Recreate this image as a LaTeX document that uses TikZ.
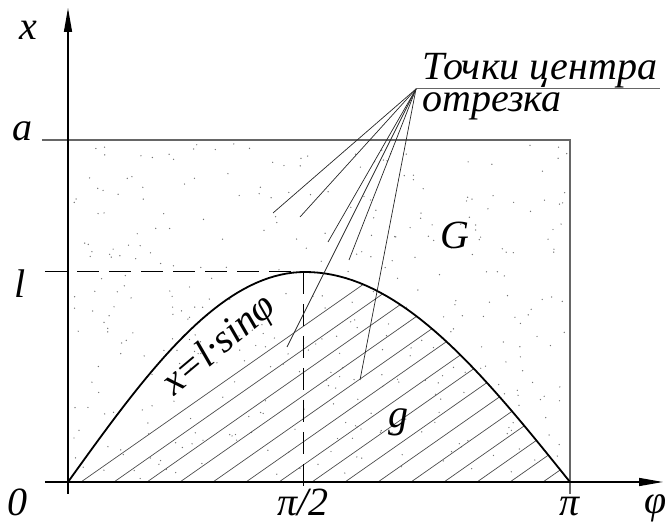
\documentclass[tikz,border=0pt]{standalone}
\usepackage{fontspec}
\setmainfont{Liberation Serif}
\usetikzlibrary{arrows.meta}

\begin{document}
\begin{tikzpicture}[x=1pt, y=1pt,
    every node/.style={font=\itshape\fontsize{40}{46}\selectfont, inner sep=0pt},
    axis/.style={line width=1.4pt, -{Triangle[length=24pt, width=8pt]}},
    frame/.style={draw=black!60, line width=1.2pt},
    hatch/.style={black!70, line width=0.7pt},
    leader/.style={black!85, line width=0.7pt},
    dashline/.style={line width=1pt, dash pattern=on 22pt off 10pt}]
    \useasboundingbox (-68,-44) rectangle (598,482);

    % stipple of G
    \pgfmathsetseed{42}
    \foreach \i in {1,...,380}{
        \pgfmathsetmacro{\px}{3+rnd*496}
        \pgfmathsetmacro{\py}{3+rnd*336}
        \fill[black!55] (\px,\py) circle (0.7);
    }

    % hatching of g
    \begin{scope}
        \clip plot[domain=0:90, samples=40] ({\x/90*237},{210*sin(\x)})
            -- plot[domain=90:180, samples=40] ({237+(\x-90)/90*265},{210*sin(\x)}) -- cycle;
        \foreach \k in {0,...,14}
            \draw[hatch] (13+33*\k,0) -- ++(35:420);
    \end{scope}

    % frame of G
    \draw[frame] (-26,342) -- (502,342) -- (502,-12);

    % level l and pi/2
    \draw[dashline] (-23,210) -- (235,210);
    \draw[dashline] (235,210) -- (235,-12);

    % axes
    \draw[axis] (0,-12) -- (0,474);
    \draw[axis] (-23,0) -- (595,0);

    % curve x = l sin(phi)
    \draw[line width=1.8pt] plot[domain=0:90, samples=40] ({\x/90*237},{210*sin(\x)})
        -- plot[domain=90:180, samples=40] ({237+(\x-90)/90*265},{210*sin(\x)});

    % labels
    \node (xlab) at (-40,452) {x};
    \node (alab) at (-45,351) {a};
    \node (llab) at (-48,198) {l};
    \node[anchor=base] (zero) at (-50,-34) {0};
    \node[anchor=base] (halfpi) at (235,-34) {π/2};
    \node[anchor=base] (pilab) at (502,-34) {π};
    \node[anchor=base] (philab) at (588,-32) {φ};
    \node (G) at (387,247) {G};
    \node (g) at (330,60) {g};
    \node[anchor=base west, rotate=40] (curvelab) at (106,85) {x=l·sinφ};

    % centre points of the segment
    \node[anchor=base west] (title) at (354,402) {Точки центра};
    \node[anchor=base west] (title2) at (354,370) {отрезка};
    \coordinate (apex) at (348,393);
    \coordinate (ulend) at (592,393);
    \draw[black!60, line width=1pt] (apex) -- (ulend);
    \coordinate (c1) at (205,269);
    \coordinate (c2) at (232,265);
    \coordinate (c3) at (260,240);
    \coordinate (c4) at (281,222);
    \coordinate (c5) at (219,135);
    \coordinate (c6) at (292,102);
    \foreach \c in {c1,c2,c3,c4,c5,c6}
        \draw[leader] (apex) -- (\c);
\end{tikzpicture}
\end{document}
